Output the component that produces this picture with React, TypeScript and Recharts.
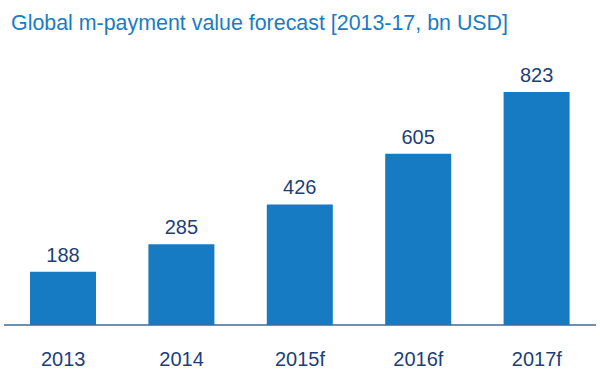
import { Bar, BarChart, LabelList, XAxis, YAxis } from "recharts";

const years = ["2013", "2014", "2015f", "2016f", "2017f"];
const values = [188, 285, 426, 605, 823];

const data = years.map((year, i) => ({ year, value: values[i] }));

export default function App() {
  return (
    <div
      style={{
        position: "absolute",
        left: 0,
        top: 0,
        width: 600,
        height: 376,
        background: "#fff",
        fontFamily: "'Liberation Sans', Arial, sans-serif",
      }}
    >
      <div
        style={{
          position: "absolute",
          left: 11,
          top: 11,
          fontSize: 21.4,
          lineHeight: "24px",
          color: "#1a7cc4",
          whiteSpace: "nowrap",
        }}
      >
        Global m-payment value forecast [2013-17, bn USD]
      </div>
      <BarChart
        width={600}
        height={376}
        data={data}
        margin={{ top: 92, right: 4, bottom: 11, left: 4 }}
        barCategoryGap={26}
      >
        <XAxis
          dataKey="year"
          height={40}
          axisLine={{ stroke: "#3b6a99", strokeWidth: 1.5 }}
          tickLine={false}
          tickSize={0}
          tickMargin={27}
          tick={{ fill: "#1c3f77", fontSize: 20 }}
          interval={0}
        />
        <YAxis hide domain={[0, 823]} />
        <Bar dataKey="value" fill="#167bc3" isAnimationActive={false}>
          <LabelList dataKey="value" position="top" offset={10} fill="#1c3f77" fontSize={20} />
        </Bar>
      </BarChart>
    </div>
  );
}
